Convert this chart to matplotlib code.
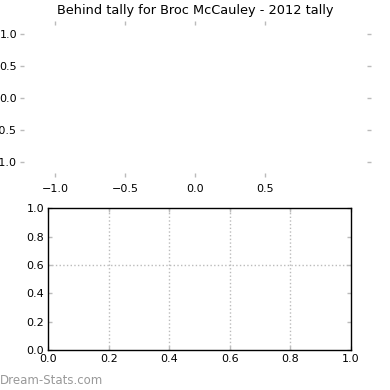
import matplotlib
matplotlib.use('Agg')
import matplotlib.pyplot as plt

# data / labels
title_text = 'Behind tally for Broc McCauley - 2012 tally'
top_xticks = [-1.0, -0.5, 0.0, 0.5]
top_yticks = [-1.0, -0.5, 0.0, 0.5, 1.0]
top_xlim = (-1.25, 1.26)
top_ylim = (-1.23, 1.21)
bot_ticks = [0.0, 0.2, 0.4, 0.6, 0.8, 1.0]
bot_vgrid = [0.2, 0.4, 0.6, 0.8]
bot_hgrid = [0.6]
watermark = 'Dream-Stats.com'

tick_gray = '#bbbbbb'

fig = plt.figure(figsize=(3.9, 3.9), dpi=100)

# top panel: empty, no frame
ax1 = fig.add_axes([20 / 390, 1 - 177 / 390, 351 / 390, 156 / 390])
ax1.set_xlim(*top_xlim)
ax1.set_ylim(*top_ylim)
ax1.set_xticks(top_xticks)
ax1.set_yticks(top_yticks)
for s in ax1.spines.values():
    s.set_visible(False)
ax1.tick_params(direction='in', length=3, width=1, color=tick_gray, labelsize=8,
                top=True, right=True)
ax1.tick_params(axis='x', pad=5)
ax1.tick_params(axis='y', pad=2)
ax1.set_title(title_text, fontsize=9.3, pad=5)

# bottom panel: empty with dotted grid
ax2 = fig.add_axes([48.3 / 390, 1 - 350 / 390, 302.4 / 390, 141.7 / 390])
ax2.set_xlim(0, 1)
ax2.set_ylim(0, 1)
ax2.set_xticks(bot_ticks)
ax2.set_yticks(bot_ticks)
for s in ax2.spines.values():
    s.set_color('black')
    s.set_linewidth(1)
ax2.tick_params(direction='in', length=3, width=1, color=tick_gray, labelsize=8,
                top=True, right=True, pad=3)
for x in bot_vgrid:
    ax2.axvline(x, color='#bbbbbb', linestyle=':', linewidth=1)
for y in bot_hgrid:
    ax2.axhline(y, color='#bbbbbb', linestyle=':', linewidth=1)

fig.text(0.0, 1 - 380 / 390, watermark, fontsize=8.5,
         color='#999999', va='center', ha='left')

fig.savefig('out.png', dpi=100)
